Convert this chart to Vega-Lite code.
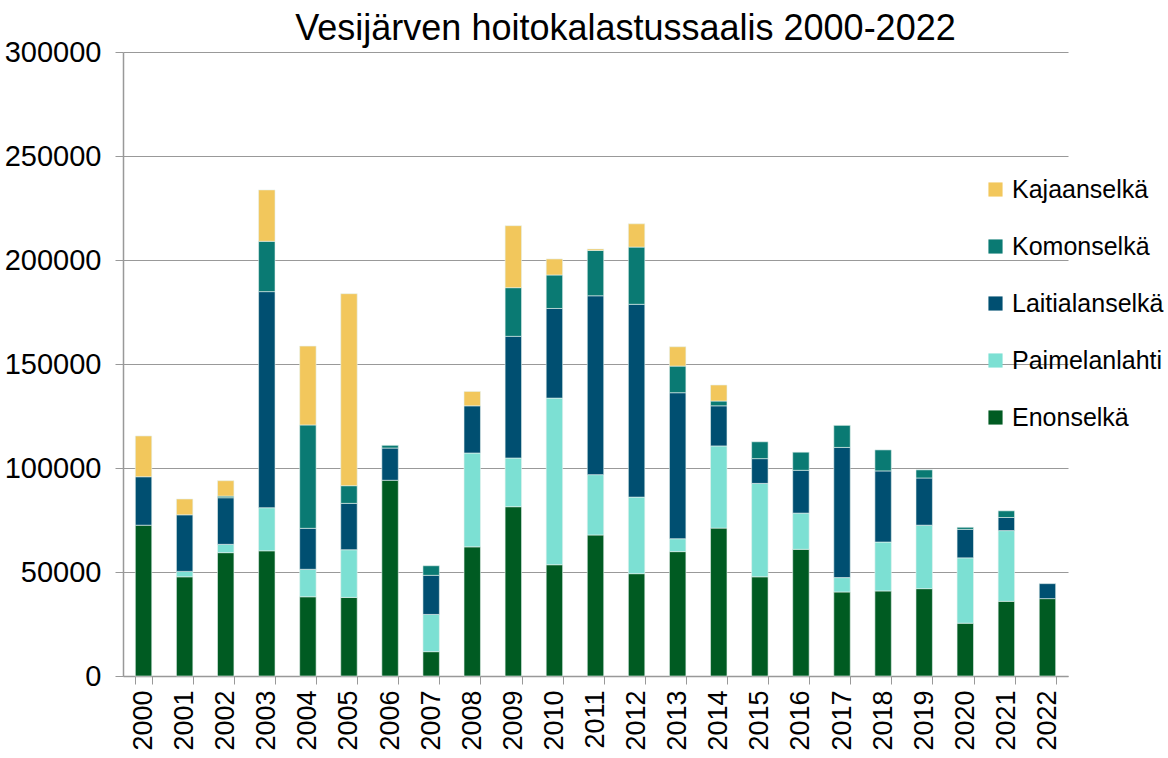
{
  "$schema": "https://vega.github.io/schema/vega-lite/v6.json",
  "width": 945,
  "height": 624,
  "autosize": {"type": "none"},
  "padding": {"left": 123, "top": 52, "right": 100, "bottom": 82},
  "background": "white",
  "title": {
    "text": "Vesijärven hoitokalastussaalis 2000-2022",
    "font": "Liberation Sans",
    "fontSize": 36,
    "fontWeight": "normal",
    "color": "black",
    "anchor": "middle",
    "dx": 30,
    "offset": -10
  },
  "config": {
    "view": {"stroke": null},
    "axis": {"labelFont": "Liberation Sans", "labelColor": "black"}
  },
  "data": {
    "values": [
      {"year": "2000", "region": "Enonselkä", "catch": 72500},
      {"year": "2000", "region": "Laitialanselkä", "catch": 23300},
      {"year": "2000", "region": "Kajaanselkä", "catch": 19600},
      {"year": "2001", "region": "Enonselkä", "catch": 47700},
      {"year": "2001", "region": "Paimelanlahti", "catch": 2600},
      {"year": "2001", "region": "Laitialanselkä", "catch": 27200},
      {"year": "2001", "region": "Kajaanselkä", "catch": 7600},
      {"year": "2002", "region": "Enonselkä", "catch": 59300},
      {"year": "2002", "region": "Paimelanlahti", "catch": 4000},
      {"year": "2002", "region": "Laitialanselkä", "catch": 22400},
      {"year": "2002", "region": "Komonselkä", "catch": 800},
      {"year": "2002", "region": "Kajaanselkä", "catch": 7400},
      {"year": "2003", "region": "Enonselkä", "catch": 60200},
      {"year": "2003", "region": "Paimelanlahti", "catch": 20700},
      {"year": "2003", "region": "Laitialanselkä", "catch": 103900},
      {"year": "2003", "region": "Komonselkä", "catch": 24200},
      {"year": "2003", "region": "Kajaanselkä", "catch": 24700},
      {"year": "2004", "region": "Enonselkä", "catch": 38100},
      {"year": "2004", "region": "Paimelanlahti", "catch": 13200},
      {"year": "2004", "region": "Laitialanselkä", "catch": 19700},
      {"year": "2004", "region": "Komonselkä", "catch": 49700},
      {"year": "2004", "region": "Kajaanselkä", "catch": 37900},
      {"year": "2005", "region": "Enonselkä", "catch": 37800},
      {"year": "2005", "region": "Paimelanlahti", "catch": 22900},
      {"year": "2005", "region": "Laitialanselkä", "catch": 22300},
      {"year": "2005", "region": "Komonselkä", "catch": 8500},
      {"year": "2005", "region": "Kajaanselkä", "catch": 92300},
      {"year": "2006", "region": "Enonselkä", "catch": 94100},
      {"year": "2006", "region": "Laitialanselkä", "catch": 15500},
      {"year": "2006", "region": "Komonselkä", "catch": 1300},
      {"year": "2007", "region": "Enonselkä", "catch": 11700},
      {"year": "2007", "region": "Paimelanlahti", "catch": 17900},
      {"year": "2007", "region": "Laitialanselkä", "catch": 18800},
      {"year": "2007", "region": "Komonselkä", "catch": 4600},
      {"year": "2008", "region": "Enonselkä", "catch": 62100},
      {"year": "2008", "region": "Paimelanlahti", "catch": 45100},
      {"year": "2008", "region": "Laitialanselkä", "catch": 22700},
      {"year": "2008", "region": "Kajaanselkä", "catch": 6900},
      {"year": "2009", "region": "Enonselkä", "catch": 81400},
      {"year": "2009", "region": "Paimelanlahti", "catch": 23400},
      {"year": "2009", "region": "Laitialanselkä", "catch": 58500},
      {"year": "2009", "region": "Komonselkä", "catch": 23400},
      {"year": "2009", "region": "Kajaanselkä", "catch": 29800},
      {"year": "2010", "region": "Enonselkä", "catch": 53500},
      {"year": "2010", "region": "Paimelanlahti", "catch": 80100},
      {"year": "2010", "region": "Laitialanselkä", "catch": 43100},
      {"year": "2010", "region": "Komonselkä", "catch": 16100},
      {"year": "2010", "region": "Kajaanselkä", "catch": 7700},
      {"year": "2011", "region": "Enonselkä", "catch": 67800},
      {"year": "2011", "region": "Paimelanlahti", "catch": 29000},
      {"year": "2011", "region": "Laitialanselkä", "catch": 86000},
      {"year": "2011", "region": "Komonselkä", "catch": 21800},
      {"year": "2011", "region": "Kajaanselkä", "catch": 700},
      {"year": "2012", "region": "Enonselkä", "catch": 49200},
      {"year": "2012", "region": "Paimelanlahti", "catch": 36800},
      {"year": "2012", "region": "Laitialanselkä", "catch": 92700},
      {"year": "2012", "region": "Komonselkä", "catch": 27500},
      {"year": "2012", "region": "Kajaanselkä", "catch": 11200},
      {"year": "2013", "region": "Enonselkä", "catch": 59800},
      {"year": "2013", "region": "Paimelanlahti", "catch": 6200},
      {"year": "2013", "region": "Laitialanselkä", "catch": 70200},
      {"year": "2013", "region": "Komonselkä", "catch": 12800},
      {"year": "2013", "region": "Kajaanselkä", "catch": 9300},
      {"year": "2014", "region": "Enonselkä", "catch": 71100},
      {"year": "2014", "region": "Paimelanlahti", "catch": 39500},
      {"year": "2014", "region": "Laitialanselkä", "catch": 19300},
      {"year": "2014", "region": "Komonselkä", "catch": 2300},
      {"year": "2014", "region": "Kajaanselkä", "catch": 7700},
      {"year": "2015", "region": "Enonselkä", "catch": 47700},
      {"year": "2015", "region": "Paimelanlahti", "catch": 44900},
      {"year": "2015", "region": "Laitialanselkä", "catch": 11900},
      {"year": "2015", "region": "Komonselkä", "catch": 8100},
      {"year": "2016", "region": "Enonselkä", "catch": 60900},
      {"year": "2016", "region": "Paimelanlahti", "catch": 17400},
      {"year": "2016", "region": "Laitialanselkä", "catch": 20600},
      {"year": "2016", "region": "Komonselkä", "catch": 8700},
      {"year": "2017", "region": "Enonselkä", "catch": 40400},
      {"year": "2017", "region": "Paimelanlahti", "catch": 6900},
      {"year": "2017", "region": "Laitialanselkä", "catch": 62600},
      {"year": "2017", "region": "Komonselkä", "catch": 10600},
      {"year": "2018", "region": "Enonselkä", "catch": 40900},
      {"year": "2018", "region": "Paimelanlahti", "catch": 23500},
      {"year": "2018", "region": "Laitialanselkä", "catch": 34200},
      {"year": "2018", "region": "Komonselkä", "catch": 10100},
      {"year": "2019", "region": "Enonselkä", "catch": 42000},
      {"year": "2019", "region": "Paimelanlahti", "catch": 30500},
      {"year": "2019", "region": "Laitialanselkä", "catch": 22700},
      {"year": "2019", "region": "Komonselkä", "catch": 3900},
      {"year": "2020", "region": "Enonselkä", "catch": 25400},
      {"year": "2020", "region": "Paimelanlahti", "catch": 31400},
      {"year": "2020", "region": "Laitialanselkä", "catch": 13700},
      {"year": "2020", "region": "Komonselkä", "catch": 1000},
      {"year": "2021", "region": "Enonselkä", "catch": 35900},
      {"year": "2021", "region": "Paimelanlahti", "catch": 34000},
      {"year": "2021", "region": "Laitialanselkä", "catch": 6300},
      {"year": "2021", "region": "Komonselkä", "catch": 3200},
      {"year": "2022", "region": "Enonselkä", "catch": 37200},
      {"year": "2022", "region": "Laitialanselkä", "catch": 7200}
    ]
  },
  "transform": [
    {"calculate": "indexof(['Enonselkä','Paimelanlahti','Laitialanselkä','Komonselkä','Kajaanselkä'], datum.region)", "as": "ord"}
  ],
  "mark": {"type": "bar", "stroke": "#e6f2ee", "strokeWidth": 0.6},
  "encoding": {
    "x": {
      "field": "year",
      "type": "ordinal",
      "title": null,
      "scale": {"paddingInner": 0.6, "paddingOuter": 0.3},
      "axis": {
        "labelAngle": -90,
        "labelFontSize": 27,
        "labelPadding": 6,
        "labelAlign": "right",
        "labelBaseline": "middle",
        "tickBand": "extent",
        "tickSize": 8,
        "tickColor": "#999999",
        "domainColor": "#999999",
        "domainWidth": 1.5,
        "grid": false
      }
    },
    "y": {
      "field": "catch",
      "type": "quantitative",
      "stack": "zero",
      "title": null,
      "scale": {"domain": [0, 300000], "nice": false},
      "axis": {
        "values": [0, 50000, 100000, 150000, 200000, 250000, 300000],
        "format": "d",
        "labelFontSize": 29,
        "labelPadding": 14,
        "tickSize": 8,
        "tickColor": "#999999",
        "domainColor": "#999999",
        "domainWidth": 1.5,
        "gridColor": "#999999",
        "gridWidth": 1.2
      }
    },
    "color": {
      "field": "region",
      "type": "nominal",
      "scale": {
        "domain": ["Kajaanselkä", "Komonselkä", "Laitialanselkä", "Paimelanlahti", "Enonselkä"],
        "range": ["#F2C75C", "#0A7A73", "#004F71", "#7CE0D3", "#005B22"]
      },
      "legend": {
        "title": null,
        "orient": "none",
        "legendX": 860,
        "legendY": 125,
        "symbolType": "square",
        "symbolSize": 200,
        "symbolStrokeWidth": 0,
        "labelFont": "Liberation Sans",
        "labelFontSize": 25,
        "labelColor": "black",
        "rowPadding": 31,
        "labelOffset": 4
      }
    },
    "order": {"field": "ord", "type": "quantitative", "sort": "ascending"}
  }
}
